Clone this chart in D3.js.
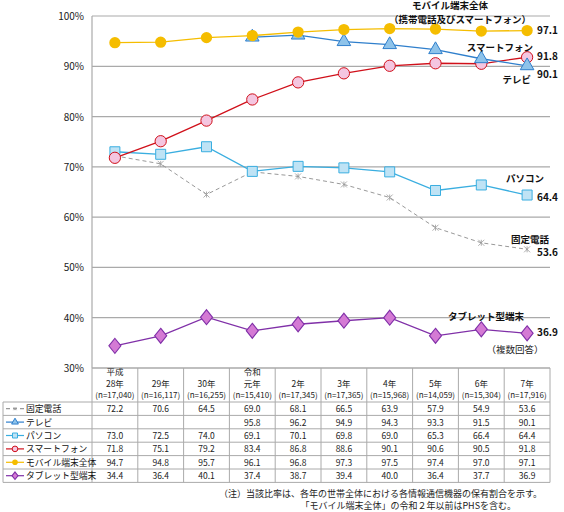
<!DOCTYPE html>
<html><head><meta charset="utf-8">
<script src="https://cdn.jsdelivr.net/npm/d3@7"></script>
<style>body{margin:0;background:#fff}text{font-family:"Noto Sans CJK JP","Noto Sans",sans-serif}</style>
</head><body><svg id="c" width="564" height="512"></svg>
<script>
const categories=[["平成","28年","(n=17,040)"],["29年","(n=16,117)"],["30年","(n=16,255)"],["令和","元年","(n=15,410)"],["2年","(n=17,345)"],["3年","(n=17,365)"],["4年","(n=15,968)"],["5年","(n=14,059)"],["6年","(n=15,304)"],["7年","(n=17,916)"]];
const fixedPhone=[72.2,70.6,64.5,69.0,68.1,66.5,63.9,57.9,54.9,53.6];
const tv=[null,null,null,95.8,96.2,94.9,94.3,93.3,91.5,90.1];
const pc=[73.0,72.5,74.0,69.1,70.1,69.8,69.0,65.3,66.4,64.4];
const smartphone=[71.8,75.1,79.2,83.4,86.8,88.6,90.1,90.6,90.5,91.8];
const mobile=[94.7,94.8,95.7,96.1,96.8,97.3,97.5,97.4,97.0,97.1];
const tablet=[34.4,36.4,40.1,37.4,38.7,39.4,40.0,36.4,37.7,36.9];
const yTicks=[30,40,50,60,70,80,90,100];
const series=[
 {name:"固定電話",data:fixedPhone,color:"#999",dash:"4,3",shape:"x"},
 {name:"テレビ",data:tv,color:"#2f7fcc",shape:"tri",fill:"#8ec3ea"},
 {name:"パソコン",data:pc,color:"#3aaee0",shape:"sq",fill:"#bfe3f5"},
 {name:"スマートフォン",data:smartphone,color:"#d0101a",shape:"circ",fill:"#f4c6e0"},
 {name:"モバイル端末全体",data:mobile,color:"#f5bd00",shape:"dot",fill:"#f5bd00"},
 {name:"タブレット型端末",data:tablet,color:"#8030a8",shape:"dia",fill:"#d47ad4"}];
const svg=d3.select("#c");
const L=92,R=550,T=16,B=368;
const x=d3.scaleBand().domain(d3.range(10)).range([L,R]);
const y=d3.scaleLinear().domain([30,100]).range([B,T]);
yTicks.forEach(t=>{svg.append("line").attr("x1",L).attr("x2",R).attr("y1",y(t)).attr("y2",y(t)).attr("stroke","#aaa").attr("stroke-width",1.2);
 svg.append("text").attr("x",84).attr("y",y(t)+4).attr("text-anchor","end").attr("font-size",10).attr("fill","#222").text(t+"%");});
svg.append("line").attr("x1",L).attr("x2",L).attr("y1",T).attr("y2",B).attr("stroke","#aaa").attr("stroke-width",1.2);
const cx=i=>x(i)+x.bandwidth()/2;
function marker(g,s,px,py,sc){sc=sc||1;
 if(s.shape==="x"){g.append("path").attr("d",`M${px-3*sc},${py-3*sc}L${px+3*sc},${py+3*sc}M${px+3*sc},${py-3*sc}L${px-3*sc},${py+3*sc}M${px},${py-3*sc}L${px},${py+3*sc}`).attr("stroke","#999").attr("stroke-width",0.8);return;}
 const sym={tri:d3.symbolTriangle,sq:d3.symbolSquare,circ:d3.symbolCircle,dot:d3.symbolCircle,dia:d3.symbolDiamond}[s.shape];
 const size={tri:80,sq:100,circ:100,dot:100,dia:80}[s.shape]*sc*sc;
 g.append("path").attr("d",d3.symbol(sym,size)()).attr("transform",`translate(${px},${py})`+(s.shape==="dia"?" scale(1.25,0.9)":"")).attr("fill",s.fill).attr("stroke",s.shape==="dot"?"none":s.color).attr("stroke-width",1);}
const line=d3.line().defined(d=>d!=null).x((d,i)=>cx(i)).y(d=>y(d));
const order=[0,2,5,3,1,4];
order.forEach(k=>{const s=series[k];
 svg.append("path").datum(s.data).attr("d",line).attr("fill","none").attr("stroke",s.color).attr("stroke-width",s.shape==="x"?1:1.3).attr("stroke-dasharray",s.dash||null);
 const g=svg.append("g");s.data.forEach((d,i)=>{if(d!=null)marker(g,s,cx(i),y(d));});});
const ann=[["モバイル端末全体",450,9,"middle",9.5],["（携帯電話及びスマートフォン）",460,23,"middle",9.5],["スマートフォン",533,51,"end",9.5],["テレビ",531,83,"end",9.5],["パソコン",525,182,"middle",9.5],["固定電話",530,243,"middle",9.5],["タブレット型端末",486,320,"middle",9.5]];
ann.forEach(a=>svg.append("text").attr("x",a[1]).attr("y",a[2]).attr("text-anchor",a[3]).attr("font-size",a[4]).attr("font-weight","bold").attr("fill","#111").text(a[0]));
[[97.1,34],[91.8,60],[90.1,78],[64.4,201],[53.6,256],[36.9,336]].forEach(v=>svg.append("text").attr("x",537).attr("y",v[1]).attr("font-size",10).attr("font-weight","bold").attr("fill","#111").text(v[0].toFixed(1)));
svg.append("text").attr("x",515).attr("y",353).attr("text-anchor","middle").attr("font-size",9.5).attr("fill","#222").text("（複数回答）");
const hT=368,hB=402,rh=13.4,tL=3;
const tB=hB+rh*6;
const tg=svg.append("g").attr("stroke","#aaa").attr("stroke-width",1);
tg.append("line").attr("x1",L).attr("x2",R).attr("y1",hT).attr("y2",hT);
for(let r=0;r<=6;r++)tg.append("line").attr("x1",tL).attr("x2",R).attr("y1",hB+r*rh).attr("y2",hB+r*rh);
tg.append("line").attr("x1",tL).attr("x2",tL).attr("y1",hB).attr("y2",tB);
for(let i=0;i<=10;i++){const xx=i<10?x(i):R;tg.append("line").attr("x1",xx).attr("x2",xx).attr("y1",hT).attr("y2",tB);}
categories.forEach((c,i)=>{const n=c.length;c.forEach((t,j)=>{
 const yy=hB-4-(n-1-j)*11.5;svg.append("text").attr("x",cx(i)).attr("y",yy).attr("text-anchor","middle").attr("font-size",t.startsWith("(")?8:8.5).attr("fill","#222").text(t);});});
series.forEach((s,r)=>{const yy=hB+r*rh+rh/2;
 const g=svg.append("g");
 g.append("line").attr("x1",6).attr("x2",24).attr("y1",yy).attr("y2",yy).attr("stroke",s.color).attr("stroke-width",1.2).attr("stroke-dasharray",s.dash||null);
 marker(g,s,15,yy,0.5);
 svg.append("text").attr("x",26).attr("y",yy+3.5).attr("font-size",8.8).attr("fill","#111").text(s.name);
 s.data.forEach((d,i)=>{if(d!=null)svg.append("text").attr("x",cx(i)).attr("y",yy+3.5).attr("text-anchor","middle").attr("font-size",8.5).attr("fill","#222").text(d.toFixed(1));});});
svg.append("text").attr("x",542).attr("y",497).attr("text-anchor","end").attr("font-size",9).attr("fill","#222").text("（注）当該比率は、各年の世帯全体における各情報通信機器の保有割合を示す。");
svg.append("text").attr("x",516).attr("y",509).attr("text-anchor","end").attr("font-size",9).attr("fill","#222").text("「モバイル端末全体」の令和２年以前はPHSを含む。");
</script></body></html>
